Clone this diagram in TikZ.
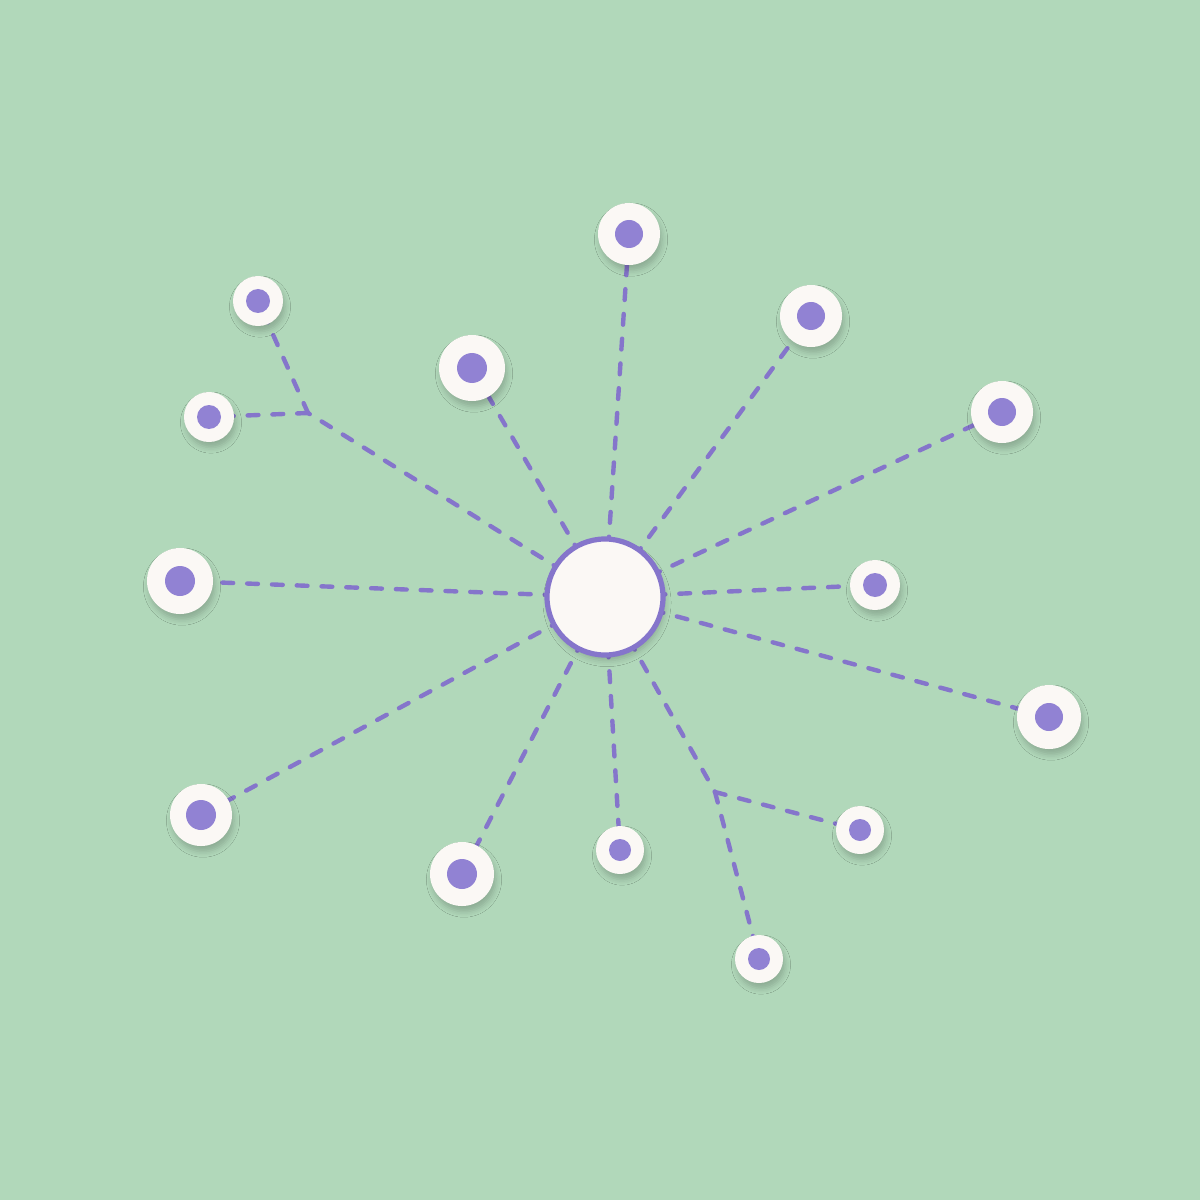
\documentclass[tikz,border=0pt]{standalone}
\usetikzlibrary{shadows.blur}
\definecolor{bg}{HTML}{B1D8BA}
\definecolor{lav}{HTML}{8575CB}
\definecolor{dotc}{HTML}{9182D3}
\definecolor{paper}{HTML}{FBF8F5}
\begin{document}
\begin{tikzpicture}[x=0.025cm,y=-0.025cm,
  link/.style={draw=lav,line width=0.11cm,line cap=round,dash pattern=on 0.27cm off 0.35cm},
  hub/.style={circle,fill=paper,draw=lav,line width=0.13cm,inner sep=0pt,minimum size=2.9cm,
     blur shadow={shadow xshift=0.05cm,shadow yshift=-0.14cm,shadow blur radius=0.15cm,shadow opacity=20}},
  leaf/.style={circle,fill=paper,inner sep=0pt,minimum size=#1*0.05cm,
     blur shadow={shadow xshift=0.05cm,shadow yshift=-0.14cm,shadow blur radius=0.14cm,shadow opacity=20}},
  dot/.style={fill=dotc}
]
\fill[bg] (0,0) rectangle (1200,1200);
\useasboundingbox (0,0) rectangle (1200,1200);

% junctions
\coordinate (j1) at (308,413);
\coordinate (j2) at (715,792);

% anchor points
\coordinate (c) at (605,597);
\coordinate (p1) at (629,234);
\coordinate (p2) at (811,316);
\coordinate (p3) at (1002,412);
\coordinate (p4) at (875,585);
\coordinate (p5) at (1049,717);
\coordinate (p6) at (860,830);
\coordinate (p7) at (759,959);
\coordinate (p8) at (620,850);
\coordinate (p9) at (462,874);
\coordinate (p10) at (201,815);
\coordinate (p11) at (180,581);
\coordinate (p12) at (209,417);
\coordinate (p13) at (258,301);
\coordinate (p14) at (472,368);

% links (under nodes)
\foreach \p in {p1,p2,p3,p4,p5,p8,p9,p10,p11,p14}{
  \draw[link] (c) -- (\p);
}
\draw[link] (c) -- (j1);
\draw[link] (j1) -- (p12);
\draw[link] (j1) -- (p13);
\draw[link] (c) -- (j2);
\draw[link] (j2) -- (p6);
\draw[link] (j2) -- (p7);

% hub
\node[hub] (hubn) at (c) {};

% leaves
\foreach \p/\r/\i in {p1/31/14, p2/31/14, p3/31/14, p4/25/12, p5/32/14, p6/24/11, p7/24/11,
   p8/24/11, p9/32/15, p10/31/15, p11/33/15, p12/25/12, p13/25/12, p14/33/15}{
  \node[leaf=\r] (n\p) at (\p) {};
  \fill[dot] (n\p.center) circle (\i);
}
\end{tikzpicture}
\end{document}
